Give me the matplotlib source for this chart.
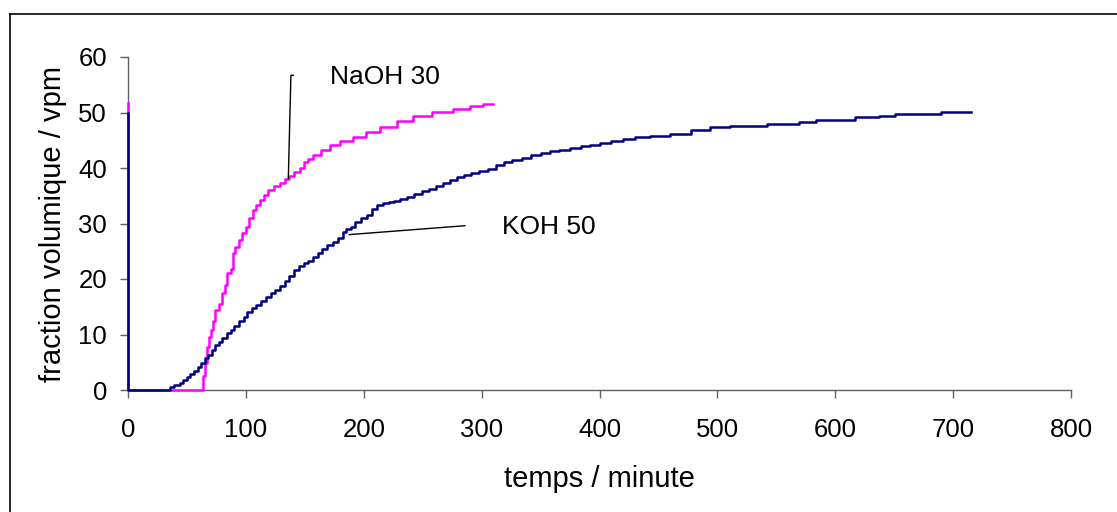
import matplotlib
matplotlib.use("Agg")
import matplotlib.pyplot as plt
from matplotlib.lines import Line2D

plt.rcParams['font.family'] = ['Liberation Sans', 'DejaVu Sans']

# KOH 50 series (time in minutes, volume fraction in vpm)
koh_t = [0, 0, 33, 36, 39, 44, 47, 50, 53, 56, 59, 62, 65, 68, 71, 74, 77, 80, 84, 87, 90,
         94, 98, 101, 105, 109, 113, 117, 121, 125, 129, 133, 137, 141, 145, 149, 153, 157,
         161, 165, 169, 174, 178, 182, 185, 189, 193, 198, 203, 207, 211, 216, 221, 226, 231,
         237, 243, 249, 255, 261, 267, 273, 279, 285, 291, 298, 305, 312, 319, 326, 334, 342,
         350, 358, 366, 375, 384, 392, 400, 410, 420, 430, 443, 460, 478, 494, 511, 542, 569,
         584, 617, 637, 651, 690, 715]
koh_v = [50, 0, 0, 0.5, 0.9, 1.2, 1.8, 2.4, 2.9, 3.5, 4.1, 4.8, 5.7, 6.3, 7.2, 8.1, 8.6, 9.3,
         10.3, 10.8, 11.5, 12.4, 13.2, 14.0, 14.7, 15.4, 16.0, 16.7, 17.4, 18.0, 18.8, 19.6,
         20.5, 21.6, 22.3, 22.8, 23.3, 24.0, 24.6, 25.4, 26.2, 26.6, 27.4, 28.4, 29.0, 29.4,
         30.2, 31.0, 31.5, 32.6, 33.4, 33.7, 33.9, 34.1, 34.5, 34.8, 35.4, 35.9, 36.3, 36.8,
         37.3, 37.8, 38.3, 38.7, 39.1, 39.5, 39.9, 40.6, 41.0, 41.4, 41.8, 42.3, 42.7, 43.0,
         43.3, 43.6, 43.9, 44.2, 44.5, 44.9, 45.2, 45.5, 45.7, 46.2, 46.8, 47.3, 47.6, 48.0,
         48.3, 48.7, 49.1, 49.4, 49.8, 50.1, 50.1]

# NaOH 30 series
naoh_t = [0, 0, 62.5, 63.5, 65, 67, 69, 70, 72, 74, 77, 79.5, 82, 84, 87, 89, 91, 94, 97,
          100, 103, 106, 109, 112, 115, 119, 124, 129, 133, 137, 141, 146, 149, 153, 157,
          164, 171, 180, 191, 202, 214, 228, 242, 258, 276, 290, 301, 310]
naoh_v = [51.7, 0, 0, 2.5, 4.8, 7.8, 9.5, 10.8, 12.5, 14.4, 15.5, 17.4, 19.0, 21.0, 21.8,
          24.6, 25.8, 27.0, 28.2, 29.4, 31.0, 32.4, 33.3, 34.2, 35.2, 36.0, 36.8, 37.3, 38.0,
          38.6, 39.3, 40.0, 41.0, 41.7, 42.3, 43.2, 44.1, 44.9, 45.6, 46.5, 47.4, 48.5, 49.4,
          50.1, 50.7, 51.2, 51.6, 51.6]

x_ticks = [0, 100, 200, 300, 400, 500, 600, 700, 800]
y_ticks = [0, 10, 20, 30, 40, 50, 60]

# annotation leader lines (data coords)
naoh_leader_x = [136, 138.2, 140.2]
naoh_leader_y = [38.1, 56.7, 56.7]
koh_leader_x = [187.7, 285.8]
koh_leader_y = [28.0, 29.6]

fig = plt.figure(figsize=(11.17, 5.12), dpi=100)
ax = fig.add_axes([128 / 1117, 1 - 390 / 512, (1071 - 128) / 1117, (390 - 57) / 512])

ax.plot(koh_t, koh_v, drawstyle='steps-post', color='#000080', lw=1.8, zorder=3, clip_on=False)
ax.plot(naoh_t, naoh_v, drawstyle='steps-post', color='#FF00FF', lw=1.8, zorder=2, clip_on=False)

ax.plot(naoh_leader_x, naoh_leader_y, color='black', lw=1.0, clip_on=False)
ax.plot(koh_leader_x, koh_leader_y, color='black', lw=1.0, clip_on=False)
ax.text(171, 56.4, 'NaOH 30', fontsize=19, va='center', ha='left')
ax.text(317, 29.3, 'KOH 50', fontsize=19, va='center', ha='left')

ax.set_xlim(0, 800)
ax.set_ylim(0, 60)
ax.set_xticks(x_ticks)
ax.set_yticks(y_ticks)
for s in ['top', 'right']:
    ax.spines[s].set_visible(False)
for s in ['left', 'bottom']:
    ax.spines[s].set_color('#606060')
    ax.spines[s].set_linewidth(1.0)
    ax.spines[s].set_zorder(1)
ax.tick_params(direction='out', length=6, width=1.0, color='#606060',
               labelsize=18.5, labelcolor='black')
ax.tick_params(axis='x', pad=14)
ax.tick_params(axis='y', pad=9)
ax.set_xlabel('temps / minute', fontsize=21, labelpad=17)
ax.set_ylabel('fraction volumique / vpm', fontsize=21, labelpad=8)

# outer frame (left and top edges visible)
fx = 10 / 1117
fy = 1 - 14 / 512
fig.add_artist(Line2D([fx, fx], [-0.05, fy], color='black', lw=1.2))
fig.add_artist(Line2D([fx, 1.05], [fy, fy], color='black', lw=1.2))

fig.savefig('out.png', dpi=100)
